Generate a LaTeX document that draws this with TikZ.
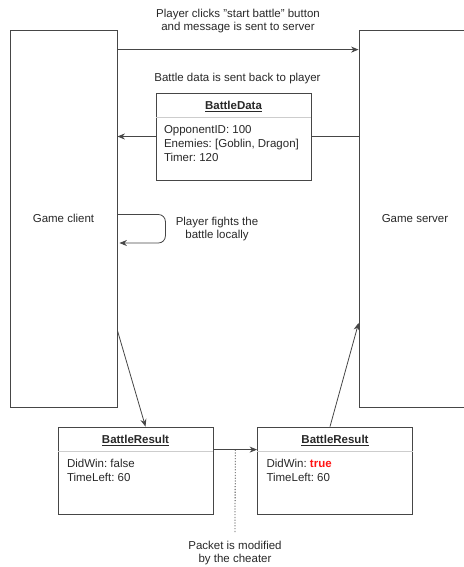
\documentclass[tikz,border=0pt]{standalone}
\usepackage{fontspec}
\setmainfont{Liberation Sans}
\usetikzlibrary{arrows.meta,positioning}
\definecolor{edgegray}{RGB}{70,70,70}
\definecolor{splitgray}{RGB}{205,205,205}
\definecolor{textgray}{RGB}{40,40,40}
\definecolor{cheatred}{RGB}{255,20,20}
\frenchspacing

\begin{document}
\begin{tikzpicture}[x=1pt,y=-1pt,line width=0.8pt,
  side/.style={draw=edgegray,minimum width=107pt,minimum height=377pt,inner sep=0pt,
               font=\fontsize{11.5}{14}\selectfont,text=textgray},
  obj/.style={draw=edgegray,minimum width=155pt,minimum height=87pt,inner sep=0pt},
  objtitle/.style={font=\fontsize{11.5}{14}\selectfont\bfseries,text=textgray,inner sep=0pt},
  objbody/.style={font=\fontsize{11.5}{14}\selectfont,text=textgray,align=left,inner sep=0pt,anchor=north west},
  lbl/.style={font=\fontsize{11.5}{13.5}\selectfont,text=textgray,align=center,inner sep=0pt},
  msg/.style={draw=edgegray,-{Stealth[length=7.5pt,width=6pt]}}]
  \useasboundingbox (0,0) rectangle (463,567);
  % Client and server
  \node[side] (client) at (63.5,218.5) {Game client};
  \node[side,minimum width=112pt] (server) at (415,219) {Game server};
  % Objects
  \node[obj] (data) at (233.5,136.5) {};
  \node[obj] (res1) at (135.5,470.5) {};
  \node[obj] (res2) at (335,470.5) {};
  \foreach \o/\t in {data/BattleData,res1/BattleResult,res2/BattleResult}{
    \node[objtitle,below=8pt of \o.north] (\o title) {\underline{\t}};
    \draw[splitgray] ([yshift=-25pt]\o.north west) -- ([yshift=-25pt]\o.north east);
  }
  \node[objbody] (databody) at ([xshift=8pt,yshift=-32pt]data.north west)
    {OpponentID: 100\\Enemies: [Goblin, Dragon]\\Timer: 120};
  \node[objbody] (res1body) at ([xshift=9pt,yshift=-32pt]res1.north west)
    {DidWin: false\\TimeLeft: 60};
  \node[objbody] (res2body) at ([xshift=9pt,yshift=-32pt]res2.north west)
    {DidWin: \textcolor{cheatred}{\bfseries true}\\TimeLeft: 60};
  % Start battle
  \coordinate (startpt) at ([yshift=-20pt]client.north east);
  \draw[msg] (startpt) -- (server.west |- startpt);
  \node[lbl] (startlbl) at (238,21) {Player clicks \symbol{34}start battle\symbol{34} button\\and message is sent to server};
  % Battle data back
  \draw[edgegray] (server.west |- data.east) -- (data.east);
  \draw[msg] (data.west) -- (client.east |- data.west);
  \node[lbl] (datalbl) at (237.5,79) {Battle data is sent back to player};
  % Local fight
  \draw[msg,rounded corners=7pt] ([yshift=4pt]client.east) -- ++(48,0) |- ([yshift=-24.5pt,xshift=2pt]client.east);
  \node[lbl] (fightlbl) at (217,229) {Player fights the\\battle locally};
  % Results
  \draw[msg] ([yshift=77pt]client.south east) -- ([xshift=10pt]res1.north);
  \draw[msg] ([xshift=-5pt]res2.north) -- ([yshift=85pt]server.south west);
  \coordinate (cheatpt) at ([yshift=-23pt]res1.north east);
  \draw[msg] (cheatpt) -- coordinate[midway] (tap) (res2.west |- cheatpt);
  \node[lbl] (cheatlbl) at (235,553) {Packet is modified\\by the cheater};
  \draw[edgegray,dash pattern=on 1.2pt off 1.6pt] (tap) -- ([yshift=7pt]cheatlbl.north);
\end{tikzpicture}
\end{document}
